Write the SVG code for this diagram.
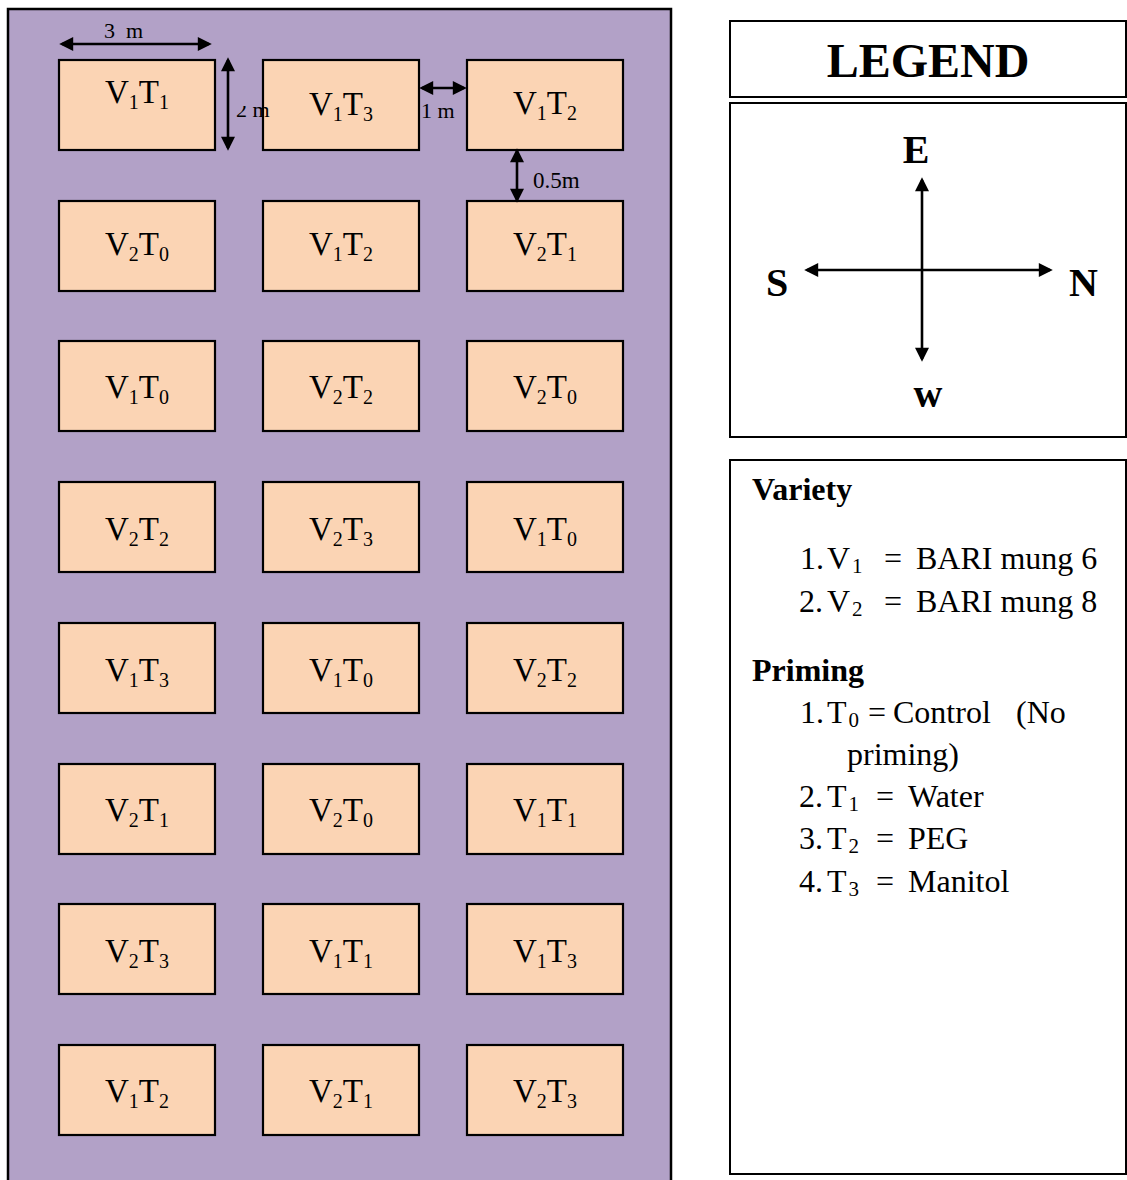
<svg xmlns="http://www.w3.org/2000/svg" width="1127" height="1180" viewBox="0 0 1127 1180">
<style>
.plot{fill:#FBD4B4;stroke:#000;stroke-width:2.2}
.lbl{font-family:"Liberation Serif","Times New Roman",serif;font-size:33px;fill:#000;text-anchor:middle}
.sub{font-size:20px}
.dim{font-family:"Liberation Serif","Times New Roman",serif;font-size:22px;fill:#000}
.arr{stroke:#000;stroke-width:2.6;fill:none;marker-start:url(#ah);marker-end:url(#ah)}
.box{fill:#fff;stroke:#000;stroke-width:2}
.cmp{font-family:"Liberation Serif","Times New Roman",serif;font-size:40px;font-weight:bold;fill:#000}
.txt{font-family:"Liberation Serif","Times New Roman",serif;font-size:32px;fill:#000}
.ls{font-size:21px}
.hd{font-family:"Liberation Serif","Times New Roman",serif;font-size:32px;font-weight:bold;fill:#000}
</style>
<defs>
<marker id="ah" viewBox="0 0 10 10" refX="8" refY="5" markerWidth="15" markerHeight="14" markerUnits="userSpaceOnUse" orient="auto-start-reverse">
<path d="M0,0 L10,5 L0,10 z" fill="#000"/>
</marker>
<clipPath id="clip2m"><rect x="230" y="106" width="60" height="20"/></clipPath>
</defs>

<rect id="field" x="8" y="9" width="663" height="1180" fill="#B2A1C7" stroke="#000" stroke-width="2.5"/>

<g id="plots">
<g id="r1c1"><rect class="plot" x="59" y="60" width="156" height="90"/><text class="lbl" x="137" y="103">V<tspan class="sub" dy="6">1</tspan><tspan dy="-6">T</tspan><tspan class="sub" dy="6">1</tspan></text></g>
<g id="r1c2"><rect class="plot" x="263" y="60" width="156" height="90"/><text class="lbl" x="341" y="115">V<tspan class="sub" dy="6">1</tspan><tspan dy="-6">T</tspan><tspan class="sub" dy="6">3</tspan></text></g>
<g id="r1c3"><rect class="plot" x="467" y="60" width="156" height="90"/><text class="lbl" x="545" y="114">V<tspan class="sub" dy="6">1</tspan><tspan dy="-6">T</tspan><tspan class="sub" dy="6">2</tspan></text></g>

<g id="r2c1"><rect class="plot" x="59" y="201" width="156" height="90"/><text class="lbl" x="137" y="255">V<tspan class="sub" dy="6">2</tspan><tspan dy="-6">T</tspan><tspan class="sub" dy="6">0</tspan></text></g>
<g id="r2c2"><rect class="plot" x="263" y="201" width="156" height="90"/><text class="lbl" x="341" y="255">V<tspan class="sub" dy="6">1</tspan><tspan dy="-6">T</tspan><tspan class="sub" dy="6">2</tspan></text></g>
<g id="r2c3"><rect class="plot" x="467" y="201" width="156" height="90"/><text class="lbl" x="545" y="255">V<tspan class="sub" dy="6">2</tspan><tspan dy="-6">T</tspan><tspan class="sub" dy="6">1</tspan></text></g>

<g id="r3c1"><rect class="plot" x="59" y="341" width="156" height="90"/><text class="lbl" x="137" y="398">V<tspan class="sub" dy="6">1</tspan><tspan dy="-6">T</tspan><tspan class="sub" dy="6">0</tspan></text></g>
<g id="r3c2"><rect class="plot" x="263" y="341" width="156" height="90"/><text class="lbl" x="341" y="398">V<tspan class="sub" dy="6">2</tspan><tspan dy="-6">T</tspan><tspan class="sub" dy="6">2</tspan></text></g>
<g id="r3c3"><rect class="plot" x="467" y="341" width="156" height="90"/><text class="lbl" x="545" y="398">V<tspan class="sub" dy="6">2</tspan><tspan dy="-6">T</tspan><tspan class="sub" dy="6">0</tspan></text></g>

<g id="r4c1"><rect class="plot" x="59" y="482" width="156" height="90"/><text class="lbl" x="137" y="540">V<tspan class="sub" dy="6">2</tspan><tspan dy="-6">T</tspan><tspan class="sub" dy="6">2</tspan></text></g>
<g id="r4c2"><rect class="plot" x="263" y="482" width="156" height="90"/><text class="lbl" x="341" y="540">V<tspan class="sub" dy="6">2</tspan><tspan dy="-6">T</tspan><tspan class="sub" dy="6">3</tspan></text></g>
<g id="r4c3"><rect class="plot" x="467" y="482" width="156" height="90"/><text class="lbl" x="545" y="540">V<tspan class="sub" dy="6">1</tspan><tspan dy="-6">T</tspan><tspan class="sub" dy="6">0</tspan></text></g>

<g id="r5c1"><rect class="plot" x="59" y="623" width="156" height="90"/><text class="lbl" x="137" y="681">V<tspan class="sub" dy="6">1</tspan><tspan dy="-6">T</tspan><tspan class="sub" dy="6">3</tspan></text></g>
<g id="r5c2"><rect class="plot" x="263" y="623" width="156" height="90"/><text class="lbl" x="341" y="681">V<tspan class="sub" dy="6">1</tspan><tspan dy="-6">T</tspan><tspan class="sub" dy="6">0</tspan></text></g>
<g id="r5c3"><rect class="plot" x="467" y="623" width="156" height="90"/><text class="lbl" x="545" y="681">V<tspan class="sub" dy="6">2</tspan><tspan dy="-6">T</tspan><tspan class="sub" dy="6">2</tspan></text></g>

<g id="r6c1"><rect class="plot" x="59" y="764" width="156" height="90"/><text class="lbl" x="137" y="821">V<tspan class="sub" dy="6">2</tspan><tspan dy="-6">T</tspan><tspan class="sub" dy="6">1</tspan></text></g>
<g id="r6c2"><rect class="plot" x="263" y="764" width="156" height="90"/><text class="lbl" x="341" y="821">V<tspan class="sub" dy="6">2</tspan><tspan dy="-6">T</tspan><tspan class="sub" dy="6">0</tspan></text></g>
<g id="r6c3"><rect class="plot" x="467" y="764" width="156" height="90"/><text class="lbl" x="545" y="821">V<tspan class="sub" dy="6">1</tspan><tspan dy="-6">T</tspan><tspan class="sub" dy="6">1</tspan></text></g>

<g id="r7c1"><rect class="plot" x="59" y="904" width="156" height="90"/><text class="lbl" x="137" y="962">V<tspan class="sub" dy="6">2</tspan><tspan dy="-6">T</tspan><tspan class="sub" dy="6">3</tspan></text></g>
<g id="r7c2"><rect class="plot" x="263" y="904" width="156" height="90"/><text class="lbl" x="341" y="962">V<tspan class="sub" dy="6">1</tspan><tspan dy="-6">T</tspan><tspan class="sub" dy="6">1</tspan></text></g>
<g id="r7c3"><rect class="plot" x="467" y="904" width="156" height="90"/><text class="lbl" x="545" y="962">V<tspan class="sub" dy="6">1</tspan><tspan dy="-6">T</tspan><tspan class="sub" dy="6">3</tspan></text></g>

<g id="r8c1"><rect class="plot" x="59" y="1045" width="156" height="90"/><text class="lbl" x="137" y="1102">V<tspan class="sub" dy="6">1</tspan><tspan dy="-6">T</tspan><tspan class="sub" dy="6">2</tspan></text></g>
<g id="r8c2"><rect class="plot" x="263" y="1045" width="156" height="90"/><text class="lbl" x="341" y="1102">V<tspan class="sub" dy="6">2</tspan><tspan dy="-6">T</tspan><tspan class="sub" dy="6">1</tspan></text></g>
<g id="r8c3"><rect class="plot" x="467" y="1045" width="156" height="90"/><text class="lbl" x="545" y="1102">V<tspan class="sub" dy="6">2</tspan><tspan dy="-6">T</tspan><tspan class="sub" dy="6">3</tspan></text></g>
</g>

<g id="dimensions">
<line class="arr" x1="62" y1="44" x2="209" y2="44"/>
<text class="dim" x="104" y="38" xml:space="preserve">3  m</text>
<line class="arr" x1="228" y1="60" x2="228" y2="148"/>
<text class="dim" x="236" y="117" clip-path="url(#clip2m)">2 m</text>
<line class="arr" x1="422" y1="88" x2="464" y2="88"/>
<text class="dim" x="421" y="118">1 m</text>
<line class="arr" x1="517" y1="151" x2="517" y2="200"/>
<text class="dim" x="533" y="188" style="font-size:23px">0.5m</text>
</g>

<g id="legend-title">
<rect class="box" x="730" y="21" width="396" height="76"/>
<text x="928" y="77" text-anchor="middle" style="font-family:'Liberation Serif','Times New Roman',serif;font-size:48px;font-weight:bold">LEGEND</text>
</g>

<g id="compass">
<rect class="box" x="730" y="103" width="396" height="334"/>
<line class="arr" x1="922" y1="180" x2="922" y2="359"/>
<line class="arr" x1="807" y1="270" x2="1050" y2="270"/>
<text class="cmp" x="916" y="163" text-anchor="middle">E</text>
<text class="cmp" x="766" y="296">S</text>
<text class="cmp" x="1069" y="296">N</text>
<text class="cmp" x="928" y="407" text-anchor="middle">w</text>
</g>

<g id="key">
<rect class="box" x="730" y="460" width="396" height="714"/>
<text class="hd" x="752" y="500">Variety</text>
<text class="txt" x="800" y="569">1.</text>
<text class="txt" x="827" y="569">V<tspan class="ls" dx="2" dy="4">1</tspan></text>
<text class="txt" x="884" y="569">=</text>
<text class="txt" x="916" y="569">BARI mung 6</text>
<text class="txt" x="799" y="612">2.</text>
<text class="txt" x="827" y="612">V<tspan class="ls" dx="2" dy="4">2</tspan></text>
<text class="txt" x="884" y="612">=</text>
<text class="txt" x="916" y="612">BARI mung 8</text>
<text class="hd" x="752" y="681">Priming</text>
<text class="txt" x="800" y="723">1.</text>
<text class="txt" x="827" y="723">T<tspan class="ls" dx="2" dy="4">0</tspan></text>
<text class="txt" x="868" y="723">=</text>
<text class="txt" x="893" y="723">Control</text>
<text class="txt" x="1016" y="723">(No</text>
<text class="txt" x="847" y="765">priming)</text>
<text class="txt" x="799" y="807">2.</text>
<text class="txt" x="827" y="807">T<tspan class="ls" dx="2" dy="4">1</tspan></text>
<text class="txt" x="876" y="807">=</text>
<text class="txt" x="908" y="807">Water</text>
<text class="txt" x="799" y="849">3.</text>
<text class="txt" x="827" y="849">T<tspan class="ls" dx="2" dy="4">2</tspan></text>
<text class="txt" x="876" y="849">=</text>
<text class="txt" x="908" y="849">PEG</text>
<text class="txt" x="799" y="892">4.</text>
<text class="txt" x="827" y="892">T<tspan class="ls" dx="2" dy="4">3</tspan></text>
<text class="txt" x="876" y="892">=</text>
<text class="txt" x="908" y="892">Manitol</text>
</g>
</svg>
